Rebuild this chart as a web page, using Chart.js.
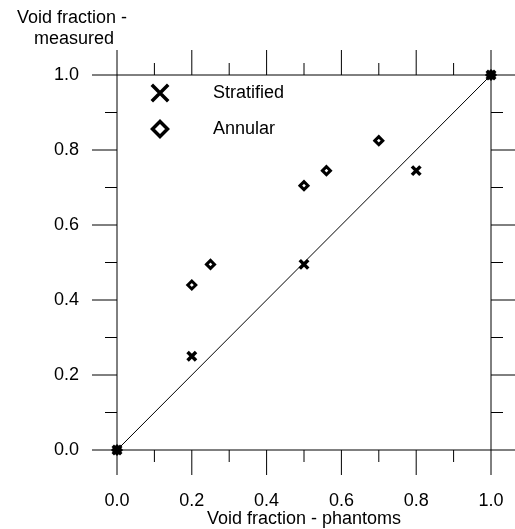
<!DOCTYPE html>
<html>
<head>
<meta charset="utf-8">
<script src="https://cdn.jsdelivr.net/npm/chart.js@4/dist/chart.umd.min.js"></script>
<style>
  html, body { margin: 0; padding: 0; background: #fff; overflow: hidden; }
  canvas { display: block; }
</style>
</head>
<body>
<canvas id="voidChart" width="515" height="529"></canvas>
<script>
document.addEventListener("DOMContentLoaded", function () {

    const stratifiedX = [0.0, 0.2, 0.5, 0.8, 1.0];
    const stratifiedY = [0.0, 0.25, 0.495, 0.745, 1.0];

    const annularX = [0.0, 0.2, 0.25, 0.5, 0.56, 0.7, 1.0];
    const annularY = [0.0, 0.44, 0.495, 0.705, 0.745, 0.825, 1.0];

    const diagonal = [0.0, 1.0];

    const majorTicks = [0.0, 0.2, 0.4, 0.6, 0.8, 1.0];
    const minorTicks = [0.1, 0.3, 0.5, 0.7, 0.9];

    const FONT = "'Liberation Sans', Arial, Helvetica, sans-serif";

    function toPoints(xs, ys) {
        return xs.map(function (x, i) { return { x: x, y: ys[i] }; });
    }

    // frame round the plot plus outward ticks on all four sides
    const framePlugin = {
        id: "frame",
        beforeDatasetsDraw: function (chart) {
            const ctx = chart.ctx;
            const a = chart.chartArea;
            const sx = chart.scales.x, sy = chart.scales.y;
            const major = 25, minor = 12;
            ctx.save();
            ctx.strokeStyle = "#000";
            ctx.lineWidth = 1;
            ctx.beginPath();
            ctx.rect(a.left, a.top, a.right - a.left, a.bottom - a.top);
            function ticks(list, len) {
                list.forEach(function (v) {
                    const px = sx.getPixelForValue(v);
                    ctx.moveTo(px, a.bottom); ctx.lineTo(px, a.bottom + len);
                    ctx.moveTo(px, a.top); ctx.lineTo(px, a.top - len);
                    const py = sy.getPixelForValue(v);
                    ctx.moveTo(a.left, py); ctx.lineTo(a.left - len, py);
                    ctx.moveTo(a.right, py); ctx.lineTo(a.right + len, py);
                });
            }
            ticks(majorTicks, major);
            ticks(minorTicks, minor);
            ctx.stroke();
            ctx.restore();
        },
        afterDraw: function (chart) {
            const ctx = chart.ctx;
            const a = chart.chartArea;
            ctx.save();
            ctx.fillStyle = "#000";
            ctx.textBaseline = "middle";

            // y axis caption, stacked above the axis
            ctx.font = "18px " + FONT;
            ctx.textAlign = "center";
            ctx.fillText("Void fraction -", 72, 18);
            ctx.fillText("measured", 74, 39);

            // legend box in the upper left of the plot
            const entries = [
                { label: "Stratified", style: "crossRot", radius: 11.6, width: 5, dy: 18 },
                { label: "Annular", style: "rectRot", radius: 7.5, width: 4.5, dy: 54 }
            ];
            entries.forEach(function (e) {
                const mx = a.left + 43, my = a.top + e.dy;
                ctx.strokeStyle = "#000";
                ctx.fillStyle = "#fff";
                Chart.helpers.drawPoint(ctx, {
                    pointStyle: e.style, radius: e.radius, borderWidth: e.width, rotation: 0
                }, mx, my);
                ctx.fillStyle = "#000";
                ctx.textAlign = "left";
                ctx.fillText(e.label, a.left + 96, my);
            });
            ctx.restore();
        }
    };

    const canvas = document.getElementById("voidChart");

    new Chart(canvas, {
        type: "scatter",
        data: {
            datasets: [
                {
                    label: "Stratified",
                    data: toPoints(stratifiedX, stratifiedY),
                    pointStyle: "crossRot",
                    pointRadius: 6,
                    pointBorderWidth: 3.5,
                    borderColor: "#000",
                    backgroundColor: "#000",
                    clip: false
                },
                {
                    label: "Annular",
                    data: toPoints(annularX, annularY),
                    pointStyle: "rectRot",
                    pointRadius: 4,
                    pointBorderWidth: 3,
                    borderColor: "#000",
                    backgroundColor: "#fff",
                    clip: false
                },
                {
                    label: "y = x",
                    data: toPoints(diagonal, diagonal),
                    showLine: true,
                    pointRadius: 0,
                    borderWidth: 1,
                    borderColor: "#000",
                    clip: false
                }
            ]
        },
        options: {
            responsive: false,
            animation: false,
            events: [],
            layout: {
                padding: { top: 75, right: 24, left: 0, bottom: 0 }
            },
            plugins: {
                legend: { display: false },
                tooltip: { enabled: false }
            },
            scales: {
                x: {
                    type: "linear",
                    min: 0,
                    max: 1,
                    afterFit: function (scale) {
                        scale.height = 79;
                        scale.paddingLeft = 0;
                        scale.paddingRight = 0;
                    },
                    grid: { display: false, drawTicks: false },
                    border: { display: false },
                    ticks: {
                        stepSize: 0.2,
                        padding: 40,
                        color: "#000",
                        font: { family: FONT, size: 18 },
                        callback: function (v) { return v.toFixed(1); }
                    },
                    title: {
                        display: true,
                        text: "Void fraction - phantoms",
                        color: "#000",
                        padding: { top: 0, bottom: -1 },
                        font: { family: FONT, size: 18 }
                    }
                },
                y: {
                    type: "linear",
                    min: 0,
                    max: 1,
                    afterFit: function (scale) {
                        scale.width = 117;
                        scale.paddingTop = 0;
                        scale.paddingBottom = 0;
                    },
                    grid: { display: false, drawTicks: false },
                    border: { display: false },
                    ticks: {
                        stepSize: 0.2,
                        padding: 38,
                        color: "#000",
                        font: { family: FONT, size: 18 },
                        callback: function (v) { return v.toFixed(1); }
                    }
                }
            }
        },
        plugins: [framePlugin]
    });
});
</script>
</body>
</html>
